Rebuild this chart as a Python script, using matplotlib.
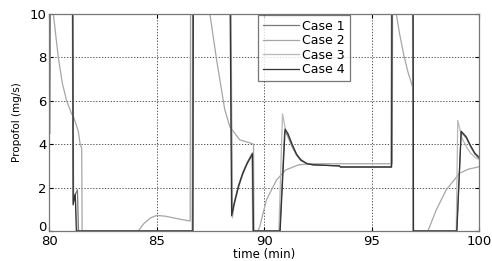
import matplotlib
matplotlib.use("Agg")
import matplotlib.pyplot as plt
import matplotlib.transforms as mtransforms

# ---- data (time in min, propofol in mg/s) ----
case1_t = [80.0, 80.01, 81.08, 81.12, 81.3, 81.35, 86.66, 86.68, 88.42, 88.5, 88.6, 88.8, 89.0, 89.2, 89.45, 89.48,
           90.72, 90.95, 91.1, 91.3, 91.5, 91.7, 92.0, 92.3, 93.5, 93.55, 95.92, 95.94, 96.92, 96.94, 98.96, 99.17,
           99.4, 99.6, 99.8, 100.0]
case1_y = [4.5, 12, 12, 1.5, 1.9, 0, 0, 12, 12, 0.8, 1.3, 2.1, 2.7, 3.15, 3.6, 0,
           0, 4.6, 4.4, 3.9, 3.5, 3.25, 3.1, 3.05, 3.0, 2.95, 2.95, 12, 12, 0, 0, 4.55,
           4.3, 3.9, 3.55, 3.35]

case2_t = [80.0, 80.05, 80.15, 80.18, 80.41, 80.6, 80.8, 81.03, 81.11, 81.34, 81.42, 81.5, 81.52, 84.13, 84.4,
           84.7, 84.99, 85.4, 85.8, 86.2, 86.55, 86.57, 87.4, 87.47, 87.78, 88.16, 88.4, 88.86, 89.4, 89.5,
           89.52, 89.7, 89.79, 90.1, 90.57, 90.99, 91.6, 92.2, 93.0, 95.96, 95.98, 96.1, 96.15, 96.3, 96.5,
           96.7, 96.92, 96.94, 97.62, 98.01, 98.47, 99.09, 99.5, 100.0]
case2_y = [4.5, 12, 12, 10, 8.0, 6.8, 6.0, 5.4, 5.3, 4.6, 4.05, 3.8, 0, 0, 0.35,
           0.6, 0.72, 0.68, 0.6, 0.52, 0.46, 12, 12, 10, 7.9, 5.6, 4.8, 4.2, 4.04, 4.0,
           0, 0, 0.2, 1.43, 2.35, 2.81, 3.05, 3.1, 3.1, 3.1, 12, 12, 10, 9.1, 8.1,
           7.3, 6.6, 0, 0, 0.97, 1.89, 2.66, 2.85, 2.96]

case3_t = [80.0, 80.01, 81.05, 81.1, 81.2, 81.28, 86.64, 86.66, 88.44, 88.52, 88.6, 88.8, 89.0, 89.2, 89.43, 89.46,
           90.68, 90.85, 91.0, 91.2, 91.4, 91.6, 91.9, 92.2, 93.5, 93.55, 95.9, 95.92, 96.9, 96.92, 98.94, 99.01,
           99.2, 99.4, 99.6, 99.8, 100.0]
case3_y = [4.5, 12, 12, 1.3, 1.6, 0, 0, 12, 12, 0.6, 1.2, 2.0, 2.6, 3.1, 3.5, 0,
           0, 5.4, 4.6, 4.1, 3.7, 3.4, 3.15, 3.05, 3.0, 2.95, 2.95, 12, 12, 0, 0, 5.1,
           4.3, 3.9, 3.6, 3.4, 3.3]

case4_t = [80.0, 80.01, 81.08, 81.1, 81.2, 81.25, 86.68, 86.7, 88.4, 88.48, 88.6, 88.8, 89.0, 89.2, 89.45, 89.5,
           90.74, 90.97, 91.1, 91.3, 91.5, 91.7, 92.0, 92.3, 93.5, 93.55, 95.93, 95.95, 96.93, 96.95, 98.97, 99.17,
           99.4, 99.6, 99.8, 100.0]
case4_y = [4.5, 12, 12, 1.2, 1.7, 0, 0, 12, 12, 0.7, 1.25, 2.05, 2.65, 3.1, 3.55, 0,
           0, 4.7, 4.5, 4.0, 3.55, 3.28, 3.1, 3.05, 3.0, 2.95, 2.95, 12, 12, 0, 0, 4.6,
           4.35, 3.95, 3.6, 3.4]

labels = ["Case 1", "Case 2", "Case 3", "Case 4"]
colors = ["#7a7a7a", "#a6a6a6", "#b8b8b8", "#333333"]

fig = plt.figure(figsize=(4.92, 2.61), dpi=100)
ax = fig.add_axes([0.1006, 0.115, 0.873, 0.831])

series = [(case1_t, case1_y), (case2_t, case2_y), (case3_t, case3_y), (case4_t, case4_y)]
order = [1, 2, 0, 3]
handles = [None] * 4
for i in order:
    t, y = series[i]
    handles[i], = ax.plot(t, y, color=colors[i], lw=0.9, label=labels[i])

ax.set_xlim(80, 100)
ax.set_ylim(0, 10)
ax.set_xticks([80, 85, 90, 95, 100])
ax.set_yticks([0, 2, 4, 6, 8, 10])
ax.grid(True, linestyle=(0, (1.5, 2)), color="#333333", linewidth=0.6)
ax.tick_params(direction="in", length=3, labelsize=9.5, top=True, right=True)
ax.tick_params(axis="x", pad=3)
ax.tick_params(axis="y", pad=2)
for s in ax.spines.values():
    s.set_color("#777777")
    s.set_linewidth(0.9)

# nudge the y "0" label up a little so it sits just above the "80" label
fig.canvas.draw()
ylab0 = ax.get_yticklabels()[0]
ylab0.set_transform(ylab0.get_transform() + mtransforms.ScaledTranslation(0, 5 / 100, fig.dpi_scale_trans))

ax.set_xlabel("time (min)", fontsize=8.5, labelpad=0)
ax.set_ylabel("Propofol (mg/s)", fontsize=7.5, labelpad=6)

leg = ax.legend(handles=handles, loc="upper left", bbox_to_anchor=(0.485, 0.997),
                fontsize=9, frameon=True, fancybox=False, handlelength=2.9,
                handletextpad=0.25, labelspacing=0.12, borderpad=0.4, borderaxespad=0)
leg.get_frame().set_edgecolor("#555555")
leg.get_frame().set_linewidth(0.9)

fig.savefig("out.png", dpi=100)
